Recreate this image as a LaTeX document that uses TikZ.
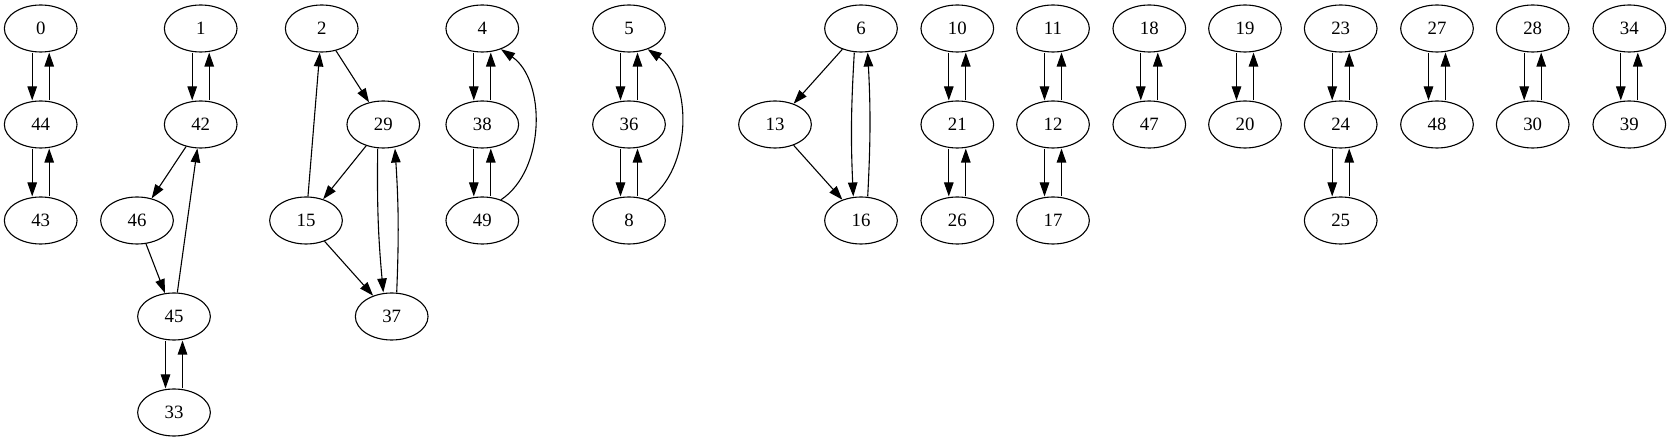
\documentclass[tikz,border=0pt]{standalone}
\usepackage{fontspec}
\setmainfont{Liberation Serif}
\usetikzlibrary{shapes.geometric,arrows.meta}
\tikzset{
  gnode/.style={ellipse,draw,line width=1.1pt,minimum width=72.7pt,minimum height=47pt,inner sep=0pt,font=\fontsize{18.8}{22}\selectfont},
  edge/.style={line width=1.1pt,-{Triangle[length=14pt,width=9.5pt]}}
}
\begin{document}
\begin{tikzpicture}[x=1pt,y=-1pt]
\useasboundingbox (0,0) rectangle (1671,443);
% nodes
\node[gnode] (n0) at (40.7,28.5) {0};
\node[gnode] (n44) at (40.7,124.5) {44};
\node[gnode] (n43) at (40.7,220.5) {43};
\node[gnode] (n1) at (200.7,28.5) {1};
\node[gnode] (n42) at (200.7,124.5) {42};
\node[gnode] (n46) at (137,220.5) {46};
\node[gnode] (n45) at (174,316.5) {45};
\node[gnode] (n33) at (174,412.5) {33};
\node[gnode] (n2) at (321.7,28.5) {2};
\node[gnode] (n29) at (383.3,124.5) {29};
\node[gnode] (n15) at (306,220.5) {15};
\node[gnode] (n37) at (391.7,316.5) {37};
\node[gnode] (n4) at (482.3,28.5) {4};
\node[gnode] (n38) at (482.3,124.5) {38};
\node[gnode] (n49) at (482.3,220.5) {49};
\node[gnode] (n5) at (629,28.5) {5};
\node[gnode] (n36) at (629,124.5) {36};
\node[gnode] (n8) at (629,220.5) {8};
\node[gnode] (n6) at (861,28.5) {6};
\node[gnode] (n13) at (775,124.5) {13};
\node[gnode] (n16) at (861,220.5) {16};
\node[gnode] (n10) at (957.3,28.5) {10};
\node[gnode] (n21) at (957.3,124.5) {21};
\node[gnode] (n26) at (957.3,220.5) {26};
\node[gnode] (n11) at (1053,28.5) {11};
\node[gnode] (n12) at (1053,124.5) {12};
\node[gnode] (n17) at (1053,220.5) {17};
\node[gnode] (n18) at (1149.3,28.5) {18};
\node[gnode] (n47) at (1149.3,124.5) {47};
\node[gnode] (n19) at (1245,28.5) {19};
\node[gnode] (n20) at (1245,124.5) {20};
\node[gnode] (n23) at (1340.7,28.5) {23};
\node[gnode] (n24) at (1340.7,124.5) {24};
\node[gnode] (n25) at (1340.7,220.5) {25};
\node[gnode] (n27) at (1437,28.5) {27};
\node[gnode] (n48) at (1437,124.5) {48};
\node[gnode] (n28) at (1532.7,28.5) {28};
\node[gnode] (n30) at (1532.7,124.5) {30};
\node[gnode] (n34) at (1629.3,28.5) {34};
\node[gnode] (n39) at (1629.3,124.5) {39};
% paired vertical edges
\foreach \a/\b in {n0/n44,n44/n43,n1/n42,n45/n33,n4/n38,n38/n49,n5/n36,n36/n8,n10/n21,n21/n26,n11/n12,n12/n17,n18/n47,n19/n20,n23/n24,n24/n25,n27/n48,n28/n30,n34/n39}{
  \draw[edge] ([xshift=-8.5pt]\a.south) -- ([xshift=-8.5pt]\b.north);
  \draw[edge] ([xshift=8.5pt]\b.north) -- ([xshift=8.5pt]\a.south);
}
% other edges
\draw[edge] (n42) -- (n46);
\draw[edge] (n46) -- (n45);
\draw[edge] (n45) -- (n42);
\draw[edge] (n2) -- (n29);
\draw[edge] (n29) -- (n15);
\draw[edge] (n15) -- (n2);
\draw[edge] (n15) -- (n37);
\draw[edge] ([xshift=-5.6pt]n29.south) to[bend right=3] ([xshift=-8.4pt]n37.north);
\draw[edge] ([xshift=5pt]n37.north) to[bend right=3] ([xshift=11.7pt]n29.south);
\draw[edge] (n49.48) .. controls (545.9,170) and (545.9,80) .. (n4.-48);
\draw[edge] (n8.48) .. controls (692.6,170) and (692.6,80) .. (n5.-48);
\draw[edge] (n6) -- (n13);
\draw[edge] (n13) -- (n16);
\draw[edge] ([xshift=-6.7pt]n6.south) to[bend right=3] ([xshift=-7.7pt]n16.north);
\draw[edge] ([xshift=6.7pt]n16.north) to[bend right=3] ([xshift=6.7pt]n6.south);
\end{tikzpicture}
\end{document}
